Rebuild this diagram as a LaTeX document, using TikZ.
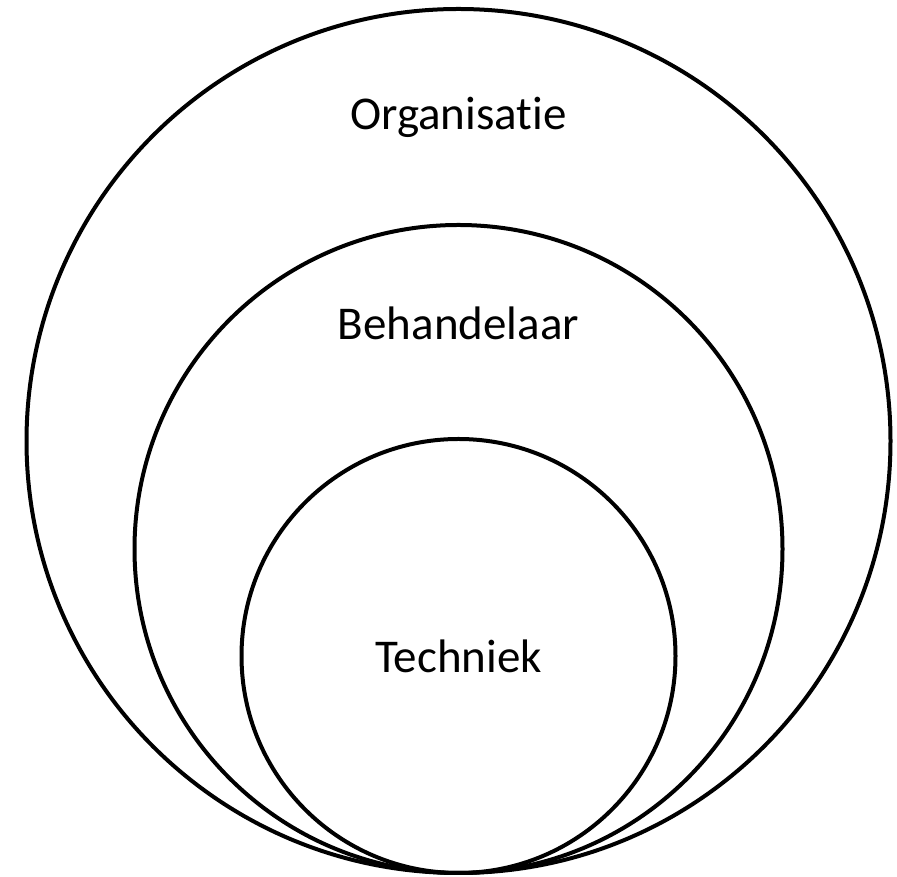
\documentclass[tikz,border=0pt]{standalone}
\usepackage{fontspec}
\setmainfont[Ligatures=NoCommon]{Carlito}
\usetikzlibrary{positioning}

\begin{document}
\begin{tikzpicture}[
    x=1pt, y=1pt,
    ring/.style={draw, circle, line width=4pt, inner sep=0pt},
    label/.style={font=\fontsize{47}{56}\selectfont, anchor=base}
]
    \useasboundingbox (0,0) rectangle (897,877);

    \node[ring, minimum size=864pt] (organisatie) at (458.5,436) {};
    \node[ring, minimum size=648pt] (behandelaar) at (458.5,328) {};
    \node[ring, minimum size=434pt] (techniek) at (458.5,221) {};

    \node[label] (orgtext) at (458.5,747) {Organisatie};
    \node[label] (behtext) at (458.5,537) {Behandelaar};
    \node[label] (techtext) at (458.5,204) {Techniek};
\end{tikzpicture}
\end{document}
